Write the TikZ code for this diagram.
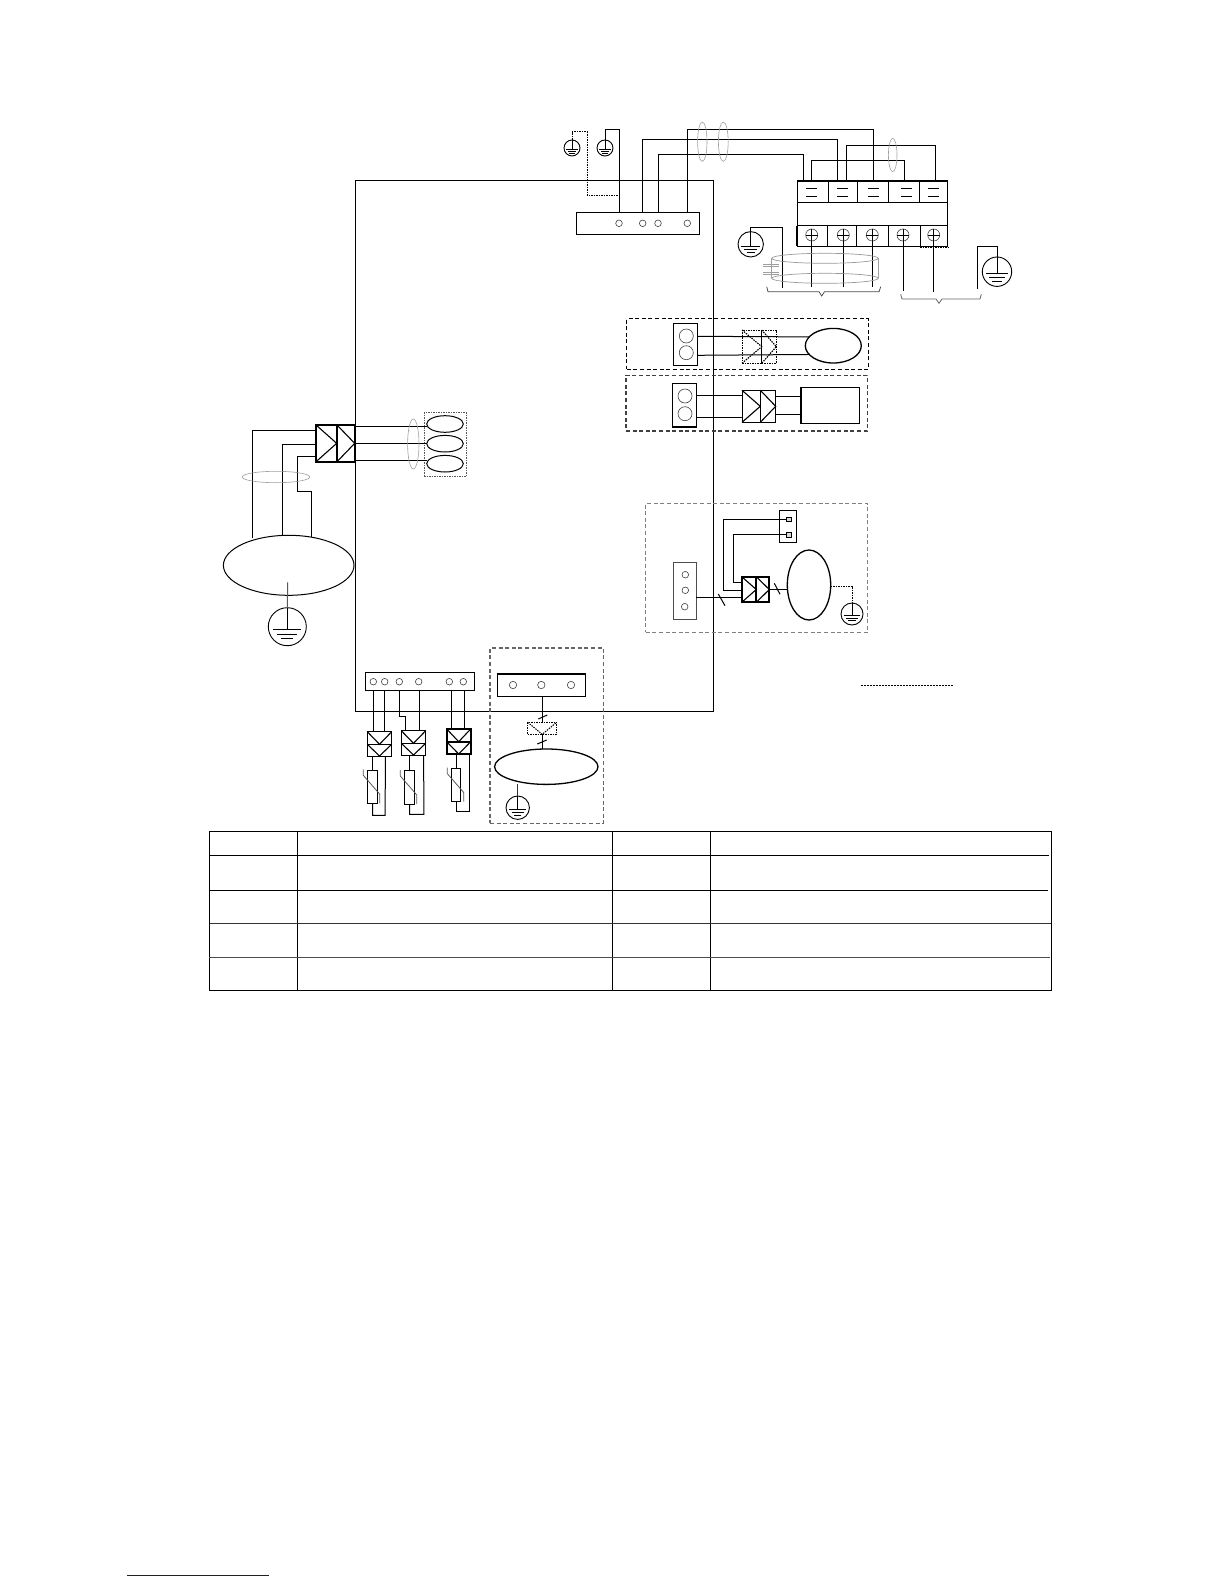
\documentclass[tikz,border=0pt]{standalone}
\usetikzlibrary{fit,shapes.geometric}
\definecolor{linkblue}{RGB}{20,20,130}
\tikzset{
	part/.style={draw,inner sep=0pt,outer sep=0pt},
	heavy/.style={line width=1.9pt},
	dotbox/.style={dash pattern=on 1.5pt off 1pt,line width=1pt},
	dashbox/.style={dash pattern=on 4pt off 2.6pt,line width=1.1pt},
	shield/.style={draw=gray!75,line width=0.6pt},
	pin/.style={draw=black!75,circle,inner sep=0pt,outer sep=0pt,line width=0.6pt},
}
\newcommand{\boxpart}[4][]{\node[part,fit={(#3)(#4)},#1] (#2) {};}
\newcommand{\ovalpart}[5][]{\node[part,ellipse,minimum width=#4*2pt,minimum height=#5*2pt,#1] (#2) at (#3) {};}
\newcommand{\pinpart}[3]{\node[pin,minimum size=#3*2pt] (#1) at (#2) {};}
\newcommand{\earthpart}[3]{
	\node[part,circle,minimum size=#3*2pt,line width=0.9pt] (#1) at (#2) {};
	\draw[shift={(#2)},line width=0.9pt] (0,-#3) -- (0,0.14*#3)
		(-0.74*#3,0.14*#3) -- (0.74*#3,0.14*#3)
		(-0.53*#3,0.4*#3) -- (0.53*#3,0.4*#3)
		(-0.32*#3,0.63*#3) -- (0.32*#3,0.63*#3);
}
\newcommand{\jointh}[7][]{
	\boxpart[#1]{#2a}{#3,#6}{#4,#7}
	\boxpart[#1]{#2b}{#4,#6}{#5,#7}
	\draw[#1,line width=1.1pt] (#2a.north west) -- (#2a.east) -- (#2a.south west);
	\draw[#1,line width=1.1pt] (#2b.north west) -- (#2b.east) -- (#2b.south west);
}
\newcommand{\jointv}[7][]{
	\boxpart[#1]{#2a}{#3,#5}{#4,#6}
	\boxpart[#1]{#2b}{#3,#6}{#4,#7}
	\draw[#1,line width=1.1pt] (#2a.north west) -- (#2a.south) -- (#2a.north east);
	\draw[#1,line width=1.1pt] (#2b.north west) -- (#2b.south) -- (#2b.north east);
}
\newcommand{\sensorpart}[5]{
	\boxpart{#1}{#2,#3}{#4,#5}
	\draw[black!65,line width=0.8pt] (#1.north west) ++(-4,-0.7) -- ++(0,6) -- ++(16.5,19) -- ++(0,9);
}
\begin{document}
\begin{tikzpicture}[x=1pt,y=-1pt,line width=1pt]
	\useasboundingbox (0,0) rectangle (1224,1584);
	\boxpart{cabinet}{355.3,180.7}{713.3,711}

	\boxpart{mainstrip}{576.7,212.3}{699,234}
	\pinpart{mainpinA}{619,223.3}{3.3}
	\pinpart{mainpinB}{642.7,223.3}{3.3}
	\pinpart{mainpinC}{658,223.3}{3.3}
	\pinpart{mainpinD}{687.3,223.3}{3.3}
	\earthpart{earthA}{572,148}{8}
	\earthpart{earthB}{605,148}{8}
	\draw[dotbox] (earthA.north) -- ++(0,-8) -| (587,195) -| (mainstrip.north -| mainpinA);
	\draw (earthB.north) -- ++(0,-10) -| (mainstrip.north -| mainpinA);

	\boxpart{boardtop}{797.3,180.7}{947.3,202.3}
	\boxpart{boardmid}{797.3,202.3}{947.3,225.7}
	\boxpart{boardlow}{797.3,225.7}{947.3,246}
	\draw[heavy] (boardtop.north west) -- (boardtop.north east);
	\draw[heavy] (boardlow.north west) -- (boardlow.south west);
	\draw (828.3,180.7) -- (828.3,202.3) (857.3,180.7) -- (857.3,202.3) (888.7,180.7) -- (888.7,202.3) (919.3,180.7) -- (919.3,202.3);
	\draw (827.3,225.7) -- (827.3,246) (856.3,225.7) -- (856.3,246) (888.3,225.7) -- (888.3,246) (920.3,225.7) -- (920.3,246);
	\draw (806.2,188.3) -- (817.2,188.3) (806.2,196) -- (817.2,196);
	\draw (837.2,188.3) -- (848.2,188.3) (837.2,196) -- (848.2,196);
	\draw (867.8,188.3) -- (878.8,188.3) (867.8,196) -- (878.8,196);
	\draw (901.2,188.3) -- (912.2,188.3) (901.2,196) -- (912.2,196);
	\draw (928.2,188.3) -- (939.2,188.3) (928.2,196) -- (939.2,196);
	\draw[dotbox] (920,247) -- (948,247);
	\coordinate (boardA) at (803.7,180.7);
	\coordinate (boardB) at (811.3,180.7);
	\coordinate (boardC) at (837.3,180.7);
	\coordinate (boardD) at (846.3,180.7);
	\coordinate (boardE) at (873.3,180.7);
	\coordinate (boardF) at (904.7,180.7);
	\coordinate (boardG) at (935.7,180.7);
	\draw (mainstrip.north -| mainpinB) -- ++(0,-73) -| (boardC);
	\draw (mainstrip.north -| mainpinC) -- ++(0,-58) -| (boardA);
	\draw (mainstrip.north -| mainpinD) -- ++(0,-83) -| (boardE);
	\draw (boardB) -- ++(0,-20) -| (boardF);
	\draw (boardD) -- ++(0,-35.4) -| (boardG);
	\ovalpart[shield]{bundleA}{702.3,141.7}{4.7}{19.7}
	\ovalpart[shield]{bundleB}{723.3,141.7}{4.9}{19.7}
	\ovalpart[shield]{bundleC}{892.7,155}{4.3}{16.7}

	\pinpart{screwA}{811.7,235}{6}
	\pinpart{screwB}{843.3,235}{6}
	\pinpart{screwC}{872.3,235}{6}
	\pinpart{screwD}{903,235}{6}
	\pinpart{screwE}{933.7,235}{6}
	\draw[line width=0.7pt] (screwA.north) -- (screwA.south) (screwA.west) -- (screwA.east);
	\draw[line width=0.7pt] (screwB.north) -- (screwB.south) (screwB.west) -- (screwB.east);
	\draw[line width=0.7pt] (screwC.north) -- (screwC.south) (screwC.west) -- (screwC.east);
	\draw[line width=0.7pt] (screwD.north) -- (screwD.south) (screwD.west) -- (screwD.east);
	\draw[line width=0.7pt] (screwE.north) -- (screwE.south) (screwE.west) -- (screwE.east);
	\coordinate (leadA) at (811.7,287.3);
	\coordinate (leadB) at (843.3,287.3);
	\coordinate (leadC) at (872.3,287.3);
	\coordinate (leadD) at (903,290.7);
	\coordinate (leadE) at (933.7,291.7);
	\draw (screwA) -- (leadA);
	\draw (screwB) -- (leadB);
	\draw (screwC) -- (leadC);
	\draw (screwD) -- (leadD);
	\draw (screwE) -- (leadE);
	\earthpart{earthC}{750.7,244.3}{12.7}
	\coordinate (leadF) at (782,288);
	\draw (earthC.north) -- ++(0,-4.3) -| (leadF);
	\earthpart{earthD}{997,271.7}{14.7}
	\coordinate (leadG) at (977,289);
	\draw (earthD.north) -- ++(0,-10.3) -| (leadG);

	\ovalpart[draw=gray!80,line width=0.7pt]{cabletop}{825,258.3}{53.3}{5}
	\ovalpart[draw=gray!80,line width=0.7pt]{cablelow}{825,278.3}{53.3}{5}
	\draw[shield] (cabletop.east) -- (cablelow.east) (cabletop.west) -- (cablelow.west);
	\draw[shield] (763.3,264.5) -- (779,264.5) (763.3,266.5) -- (779,266.5);
	\draw[shield] (763.3,272.5) -- (779,272.5) (763.3,274.5) -- (779,274.5);
	\draw[line width=0.8pt,black!70] (766.7,286.7) -- (768,291.7) -- (819,291.7) -- (821.7,296) -- (824.5,291.7) -- (879,291.7) -- (880.7,286.7);
	\draw[line width=0.8pt,black!60] (900.7,294.3) -- (902,299) -- (936,299) -- (939,303.3) -- (942,299) -- (980,299) -- (981.3,294.3);

	\boxpart[dashbox]{fanbox}{626.7,318.7}{868.3,369.3}
	\boxpart{fanplug}{673.7,323.7}{697.3,365.3}
	\pinpart{fanpinA}{686.3,336}{7}
	\pinpart{fanpinB}{686.3,352.7}{7}
	\jointh[dotbox]{fanjoint}{742}{761.7}{776.3}{330}{363.3}
	\ovalpart[line width=1.3pt]{fanoval}{833.3,345.7}{28}{17.3}
	\draw (fanplug.east |- 0,336.3) -- (fanoval.160);
	\draw (fanplug.east |- 0,355.3) -- (fanoval.200);

	\boxpart[dashbox,draw=black!75]{valvebox}{626,375.3}{867.3,431}
	\boxpart{valveplug}{672.7,383.7}{696.7,427}
	\draw[heavy] (valveplug.south west) -- (valveplug.south east);
	\pinpart{valvepinA}{685,396}{7}
	\pinpart{valvepinB}{685,413.7}{7}
	\jointh{valvejoint}{742}{760.3}{775.7}{390.3}{422.3}
	\boxpart[line width=1.3pt]{valverect}{801,387.3}{859.7,423.3}
	\draw (valveplug.east |- 0,395.7) -- (valvejointa.west |- 0,395.7);
	\draw (valveplug.east |- 0,417.7) -- (valvejointa.west |- 0,417.7);
	\draw (valvejointb.east |- 0,396) -- (valverect.west |- 0,396);
	\draw (valvejointb.east |- 0,414.3) -- (valverect.west |- 0,414.3);

	\jointh[heavy]{motorjoint}{315.7}{336.7}{354.7}{424.7}{462}
	\ovalpart{motoroval}{288.7,565.3}{65.3}{30}
	\earthpart{earthE}{287.3,626.7}{19}
	\draw[black!65] (287.7,582.3) -- (earthE.north);
	\draw (motorjointa.west |- 0,430.7) -- ++(-63,0) -- ++(0,107.6);
	\draw (motorjointa.west |- 0,444.3) -- ++(-33,0) -- ++(0,91);
	\draw (motorjointa.west |- 0,456.3) -- ++(-18.4,0) -- ++(0,35) -- ++(14,0) -- ++(0,45.4);
	\ovalpart[shield]{motorshield}{276,477}{33.7}{5.7}
	\boxpart[dotbox,draw=black!65]{coilbox}{424,412.7}{466.3,476.3}
	\ovalpart{coilA}{445,424}{18.3}{8.3}
	\ovalpart{coilB}{445,443.7}{18.3}{8.3}
	\ovalpart{coilC}{445,463.7}{18.3}{8.3}
	\draw (motorjointb.east |- 0,426.3) -- (coilA.west |- 0,426.3);
	\draw (motorjointb.east |- 0,443.3) -- (coilB.west |- 0,443.3);
	\draw (motorjointb.east |- 0,460.3) -- (coilC.west |- 0,460.3);
	\ovalpart[shield]{coilshield}{413.3,444}{5.7}{25}

	\boxpart[dashbox,draw=black!50]{pumpbox}{645.7,503.3}{867.7,632.3}
	\boxpart[draw=black!70]{pumpplug}{673.3,562.7}{696,619}
	\pinpart{pumppinA}{685.3,574.7}{3.3}
	\pinpart{pumppinB}{685.3,590.3}{3.3}
	\pinpart{pumppinC}{684.7,606.7}{3.3}
	\jointh[heavy]{pumpjoint}{741.7}{756.3}{769.3}{576.7}{602.3}
	\boxpart{switchbox}{779.3,510.7}{796.3,542.3}
	\boxpart[line width=0.6pt,fill=gray!30]{switchpinA}{786.7,517}{791.7,521.7}
	\boxpart[line width=0.6pt,fill=gray!30]{switchpinB}{786.7,532.3}{791.7,537}
	\ovalpart[line width=1.3pt]{pumpoval}{809,585}{21.7}{35}
	\earthpart{earthF}{852,614}{11}
	\draw (pumpplug.east |- 0,597.3) -- (pumpjointa.west |- 0,597.3);
	\draw (718.3,594) -- (725,605.7);
	\draw (pumpjointa.west |- 0,590) -- ++(-18,0) |- (switchpinA.west);
	\draw (pumpjointa.west |- 0,582.7) -- ++(-8.4,0) |- (switchpinB.west);
	\draw (pumpjointb.east |- 0,589.3) -- (pumpoval.west |- 0,589.3);
	\draw (774.3,583.3) -- (780,594.3);
	\draw[dotbox] (pumpoval.east |- 0,586) -| (earthF.north);

	\boxpart{sensorstrip}{365.7,672.3}{474.3,690}
	\pinpart{sensorpinA}{373.3,681.7}{3.3}
	\pinpart{sensorpinB}{384.7,681.7}{3.3}
	\pinpart{sensorpinC}{399.3,681.7}{3.3}
	\pinpart{sensorpinD}{418.7,681.7}{3.3}
	\pinpart{sensorpinE}{449.3,681.7}{3.3}
	\pinpart{sensorpinF}{463.3,681.7}{3.3}
	\jointv{sensorjointA}{367.3}{391.7}{731.7}{744.3}{756}
	\jointv{sensorjointB}{401.3}{425.7}{730.7}{743.3}{755}
	\jointv[heavy]{sensorjointC}{446.7}{470.7}{729}{741.7}{754}
	\draw (sensorstrip.south -| sensorpinA) -- (sensorpinA |- sensorjointAa.north);
	\draw (sensorstrip.south -| sensorpinB) -- (sensorpinB |- sensorjointAa.north);
	\draw (sensorstrip.south -| sensorpinC) -- ++(0,26) -- ++(6.4,0) |- (sensorjointBa.north);
	\draw (sensorstrip.south -| 419.3,0) -- (419.3,730.7);
	\draw (sensorstrip.south -| 451.7,0) -- (451.7,729);
	\draw (sensorstrip.south -| 464.3,0) -- (464.3,729);
	\sensorpart{sensorA}{367.3}{770}{377.7}{803.7}
	\sensorpart{sensorB}{404.3}{770.7}{414.7}{804.3}
	\sensorpart{sensorC}{451.3}{768.3}{460.7}{801.7}
	\draw (sensorA.north) -- (sensorA.north |- sensorjointAb.south);
	\draw (sensorB.north) -- (sensorB.north |- sensorjointBb.south);
	\draw (sensorC.north) -- (sensorC.north |- sensorjointCb.south);
	\draw (sensorA.south) -- ++(0,11.6) -- ++(12.7,0) -- (385.3,756);
	\draw (sensorB.south) -- ++(0,10) -- ++(14.3,0) -- (423.7,755);
	\draw (sensorC.south) -- ++(0,10) -- ++(13.3,0) -- (469.3,754);

	\boxpart[dashbox,draw=black!60]{heatbox}{490,648}{603.3,823.3}
	\boxpart[line width=1.3pt]{heatstrip}{497.7,674}{585.3,696.3}
	\pinpart{heatpinA}{513,685}{3.7}
	\pinpart{heatpinB}{541.3,685}{3.7}
	\pinpart{heatpinC}{571,685}{3.7}
	\boxpart[dotbox]{heatjoint}{527.7,722.3}{556.7,734.3}
	\draw[dotbox] (heatjoint.north west) -- (heatjoint.south) -- (heatjoint.north east);
	\ovalpart[line width=1.3pt]{heatoval}{546.3,766.7}{51.7}{17.7}
	\earthpart{earthG}{517.7,807.7}{11.7}
	\draw (heatstrip.south -| 542.3,0) -- (542.3,722.3);
	\draw (542,734.3) -- (542,749);
	\draw (538.3,719) -- (547.3,715) (537.3,744) -- (546.7,740);
	\draw[black!80] (earthG.north) -- (earthG.north |- heatoval.south);

	\coordinate (blankA) at (861,685.3);
	\coordinate (blankB) at (953.3,685.3);
	\draw[dash pattern=on 2pt off 1pt,line width=0.9pt] (blankA) -- (blankB);

	\boxpart{tableframe}{209,831.7}{1051.3,990.3}
	\draw (297.6,831.7) -- (297.6,990.3) (612.5,831.7) -- (612.5,990.3) (710.6,831.7) -- (710.6,990.3);
	\draw (210,855.3) -- (1049,855.3);
	\draw (209,890) -- (1048,890);
	\draw[black!80] (210,923.3) -- (1051,923.3);
	\draw[black!70] (209,957.7) -- (1050,957.7);

	\coordinate (linkA) at (127.3,1575.3);
	\coordinate (linkB) at (269,1575.3);
	\draw[linkblue] (linkA) -- (linkB);
\end{tikzpicture}
\end{document}
